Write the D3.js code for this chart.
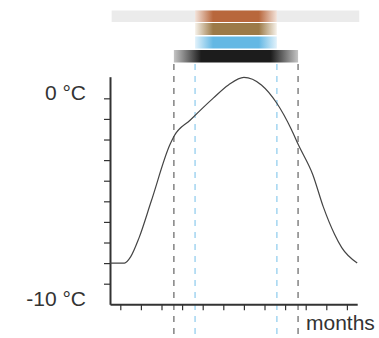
<!DOCTYPE html>
<html>
<head>
<meta charset="utf-8">
<script src="https://cdn.jsdelivr.net/npm/d3@7"></script>
<style>
  body { margin: 0; background: #fff; }
  svg text { font-family: "Liberation Sans", Arial, sans-serif; fill: #333; }
</style>
</head>
<body>
<svg id="chart" width="379" height="338"></svg>
<script>
// temperature curve, x in months (0..12), y in °C
var monthPos = [0, 0.7, 1.0, 1.4, 2.0, 2.9, 3.1, 3.9, 5.0, 5.75, 6.5, 7.35, 8.1, 8.8, 9.15, 9.85, 10.35, 10.9, 11.25, 12.0]
var temps = [-8.0, -8.0, -7.7, -6.8, -5.0, -2.27, -1.85, -1.05, 0.0, 0.65, 1.02, 0.65, -0.24, -1.5, -2.27, -3.72, -5.26, -6.6, -7.25, -8.0]

var yLabelVals = [-10, 0]
var yLabels = ["-10 °C", "0 °C"]
var monthTicks = [0.5, 1.5, 2.5, 3.5, 4.5, 5.5, 6.5, 7.5, 8.5, 9.5, 10.5, 11.5]

// season bars: start / end in months
var barNames = ["year", "rust", "tan", "water", "dark"]
var barStart = [0.08, 4.13, 4.13, 4.13, 3.1]
var barEnd = [12.1, 8.1, 8.1, 8.1, 9.13]
var barColors = ["#ebebeb", "#b8673c", "#9c7a48", "#64b8e4", "#1c1c1c"]
var barRow = [0, 0, 1, 2, 3]

// dashed markers
var markPos = [3.1, 4.13, 8.1, 9.13]
var markColors = ["#8a8a8a", "#a9d8f2", "#a9d8f2", "#8a8a8a"]

var svg = d3.select("#chart")

var x = d3.scaleLinear().domain([0, 12]).range([110, 357.2])
var y = d3.scaleLinear().domain([-10, 1.05]).range([304.3, 76.7])

// gradients
var defs = svg.append("defs")
var fadeEnd = ["#ffffff", "#f3e3da", "#f7f2ea", "#e2f2fb", "#c4c4c4"]
barNames.forEach(function(n, i){
  if (i == 0) return
  var g = defs.append("linearGradient").attr("id", "g_" + n)
  g.append("stop").attr("offset", "0%").attr("stop-color", fadeEnd[i])
  g.append("stop").attr("offset", "22%").attr("stop-color", barColors[i])
  g.append("stop").attr("offset", "78%").attr("stop-color", barColors[i])
  g.append("stop").attr("offset", "100%").attr("stop-color", fadeEnd[i])
})

var rowY = [10.5, 23, 36.5, 50]
var rowH = [11.5, 12, 12, 12.5]
svg.selectAll(".bar")
  .data(barNames)
  .enter()
  .append("rect")
  .attr("class", "bar")
  .attr("x", function(d, i){ return x(barStart[i]) })
  .attr("width", function(d, i){ return x(barEnd[i]) - x(barStart[i]) })
  .attr("y", function(d, i){ return rowY[barRow[i]] })
  .attr("height", function(d, i){ return rowH[barRow[i]] })
  .attr("fill", function(d, i){ return i == 0 ? barColors[0] : "url(#g_" + d + ")" })

// dashed verticals
svg.selectAll(".mark")
  .data(markPos)
  .enter()
  .append("line")
  .attr("class", "mark")
  .attr("x1", function(d){ return x(d) })
  .attr("x2", function(d){ return x(d) })
  .attr("y1", 64)
  .attr("y2", 338)
  .attr("stroke", function(d, i){ return markColors[i] })
  .attr("stroke-width", 1.6)
  .attr("stroke-dasharray", "6,6")

// axes
var yAxis = d3.axisLeft(y).tickValues(d3.range(-9, 1)).tickSize(6).tickSizeOuter(0).tickFormat("")
var gy = svg.append("g").attr("transform", "translate(110,0)").call(yAxis)
gy.select(".domain").attr("stroke", "#333").attr("stroke-width", 2)
gy.selectAll(".tick line").attr("stroke", "#333").attr("stroke-width", 1.2)

var xAxis = d3.axisBottom(x).tickValues(monthTicks).tickSize(6).tickSizeOuter(0).tickFormat("")
var gx = svg.append("g").attr("transform", "translate(0,304.3)").call(xAxis)
gx.select(".domain").attr("stroke", "#333").attr("stroke-width", 2)
gx.selectAll(".tick line").attr("stroke", "#333").attr("stroke-width", 1.2)

svg.selectAll(".ylab")
  .data(yLabelVals)
  .enter()
  .append("text")
  .attr("class", "ylab")
  .attr("x", 86)
  .attr("y", function(d){ return y(d) + 1.7 })
  .attr("text-anchor", "end")
  .attr("font-size", "21px")
  .text(function(d, i){ return yLabels[i] })

svg.append("text")
  .attr("x", 306)
  .attr("y", 329.5)
  .attr("font-size", "21px")
  .text("months")

// temperature line
var pts = monthPos.map(function(m, i){ return [m, temps[i]] })
svg.append("path")
  .datum(pts)
  .attr("fill", "none")
  .attr("stroke", "#444")
  .attr("stroke-width", 1.2)
  .attr("d", d3.line()
    .x(function(d){ return x(d[0]) })
    .y(function(d){ return y(d[1]) })
    .curve(d3.curveMonotoneX))
</script>
</body>
</html>
